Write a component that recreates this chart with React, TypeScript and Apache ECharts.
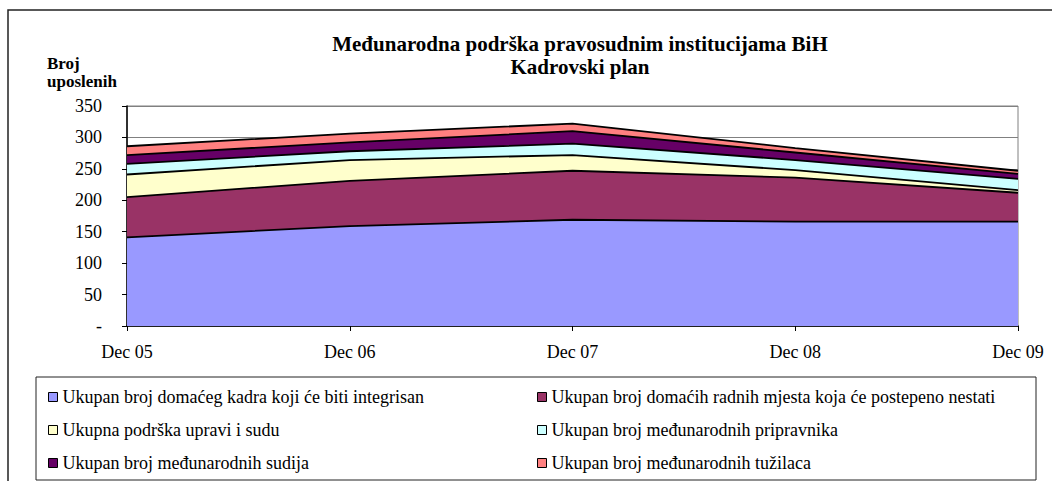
import React, { useEffect, useRef } from "react";
import * as echarts from "echarts";

const categories = ["Dec 05", "Dec 06", "Dec 07", "Dec 08", "Dec 09"];
const seriesNames = [
  "Ukupan broj domaćeg kadra koji će biti integrisan",
  "Ukupan broj domaćih radnih mjesta koja će postepeno nestati",
  "Ukupna podrška upravi i sudu",
  "Ukupan broj međunarodnih pripravnika",
  "Ukupan broj međunarodnih sudija",
  "Ukupan broj međunarodnih tužilaca",
];
const domaciKadar = [141, 159, 169, 166, 166];
const domacaMjesta = [64, 72, 78, 70, 46];
const podrska = [36, 33, 25, 12, 4];
const pripravnici = [17, 14, 18, 16, 18];
const sudije = [14, 14, 20, 12, 8];
const tuzioci = [14, 14, 12, 7, 5];
const seriesData = [domaciKadar, domacaMjesta, podrska, pripravnici, sudije, tuzioci];
const colors = ["#9999FF", "#993366", "#FFFFCC", "#CCFFFF", "#660066", "#FF8080"];

const FONT = "Liberation Serif";

export default function App() {
  const ref = useRef<HTMLDivElement>(null);
  useEffect(() => {
    if (!ref.current) return;
    const chart = echarts.init(ref.current, null, { renderer: "svg" });
    const option: any = {
      animation: false,
      backgroundColor: "#ffffff",
      textStyle: { fontFamily: FONT },
      title: {
        text: "Međunarodna podrška pravosudnim institucijama BiH\nKadrovski plan",
        left: 575,
        textAlign: "center",
        top: 27,
        textStyle: {
          fontFamily: FONT,
          fontSize: 21,
          fontWeight: "bold",
          color: "#000",
          lineHeight: 23,
        },
      },
      graphic: [
        {
          type: "rect",
          shape: { x: 8, y: 10, width: 1100, height: 600 },
          style: { fill: "none", stroke: "#222", lineWidth: 1.5 },
          silent: true,
        },
        {
          type: "rect",
          shape: { x: 36, y: 377, width: 1000, height: 103 },
          style: { fill: "none", stroke: "#222", lineWidth: 1 },
          silent: true,
        },
        {
          type: "text",
          x: 47,
          y: 54,
          style: {
            text: "Broj\nuposlenih",
            font: "bold 17px Liberation Serif",
            fill: "#000",
            lineHeight: 18,
          },
        },
      ],
      legend: [
        {
          orient: "vertical",
          left: 43,
          top: 383,
          itemWidth: 9,
          itemHeight: 9,
          itemGap: 15,
          icon: "rect",
          data: [seriesNames[0], seriesNames[2], seriesNames[4]],
          itemStyle: { borderColor: "#000", borderWidth: 1 },
          textStyle: { fontFamily: FONT, fontSize: 18, color: "#000", lineHeight: 18 },
        },
        {
          orient: "vertical",
          left: 532,
          top: 383,
          itemWidth: 9,
          itemHeight: 9,
          itemGap: 15,
          icon: "rect",
          data: [seriesNames[1], seriesNames[3], seriesNames[5]],
          itemStyle: { borderColor: "#000", borderWidth: 1 },
          textStyle: { fontFamily: FONT, fontSize: 18, color: "#000", lineHeight: 18 },
        },
      ],
      grid: {
        left: 127,
        top: 106,
        width: 891,
        height: 220,
        show: true,
        borderColor: "#808080",
        borderWidth: 1,
        backgroundColor: "#ffffff",
      },
      xAxis: {
        type: "category",
        data: categories,
        boundaryGap: false,
        axisLine: { lineStyle: { color: "#000", width: 1.5 } },
        axisTick: { show: true, length: 5, inside: false, lineStyle: { color: "#000" } },
        axisLabel: { fontFamily: FONT, fontSize: 18, color: "#000", margin: 17 },
        splitLine: { show: false },
      },
      yAxis: {
        type: "value",
        min: 0,
        max: 350,
        interval: 50,
        axisLine: { show: true, lineStyle: { color: "#000", width: 1.5 } },
        axisTick: { show: true, length: 5, inside: false, lineStyle: { color: "#000" } },
        axisLabel: {
          fontFamily: FONT,
          fontSize: 18,
          color: "#000",
          margin: 25,
          formatter: (v: number) => (v === 0 ? "-" : String(v)),
        },
        splitLine: { show: true, lineStyle: { color: "#808080", width: 1 } },
      },
      series: seriesData.map((d, i) => ({
        name: seriesNames[i],
        type: "line",
        stack: "total",
        data: d,
        showSymbol: false,
        symbol: "none",
        color: colors[i],
        lineStyle: { color: "#000", width: 1.8 },
        areaStyle: { color: colors[i], opacity: 1 },
        itemStyle: { color: colors[i], borderColor: "#000", borderWidth: 1 },
      })),
    };
    chart.setOption(option);
    return () => chart.dispose();
  }, []);
  return <div ref={ref} style={{ width: 1052, height: 481, position: "absolute", left: 0, top: 0 }} />;
}
